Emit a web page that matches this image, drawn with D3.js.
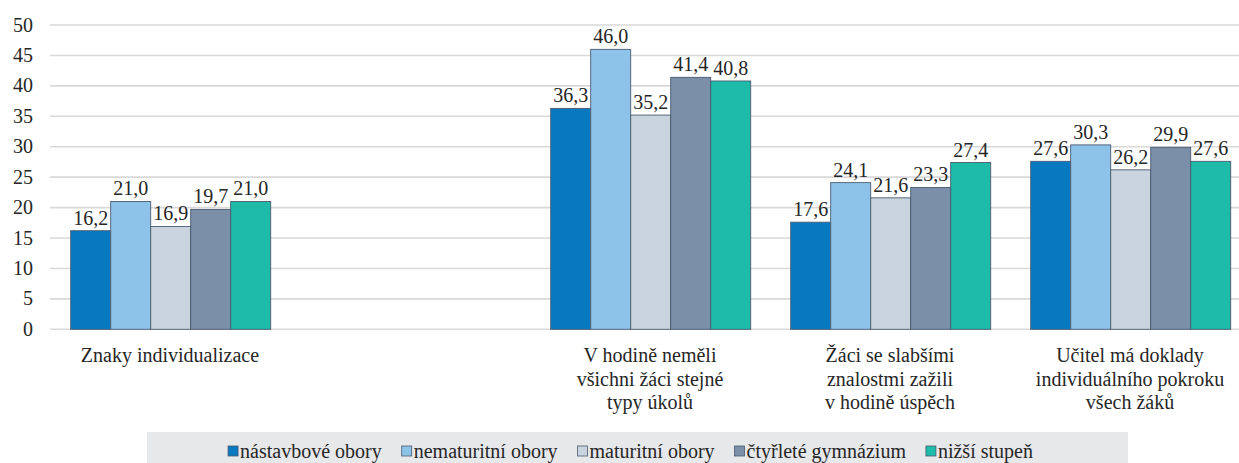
<!DOCTYPE html>
<html>
<head>
<meta charset="utf-8">
<script src="https://cdn.jsdelivr.net/npm/d3@7"></script>
</head>
<body style="margin:0">
<svg id="s" width="1239" height="463"></svg>
<script>
// ---- data ----
const categories = ["c0", "c1", "c2", "c3", "c4"];
const categoryLabels = [
  ["Znaky individualizace"],
  [],
  ["V hodině neměli", "všichni žáci stejné", "typy úkolů"],
  ["Žáci se slabšími", "znalostmi zažili", "v hodině úspěch"],
  ["Učitel má doklady", "individuálního pokroku", "všech žáků"]
];
const seriesNames = ["nástavbové obory", "nematuritní obory", "maturitní obory", "čtyřleté gymnázium", "nižší stupeň"];
const nastavbove   = [16.2, null, 36.3, 17.6, 27.6];
const nematuritni  = [21.0, null, 46.0, 24.1, 30.3];
const maturitni    = [16.9, null, 35.2, 21.6, 26.2];
const ctyrlete     = [19.7, null, 41.4, 23.3, 29.9];
const nizsi        = [21.0, null, 40.8, 27.4, 27.6];
const yTicks = [0, 5, 10, 15, 20, 25, 30, 35, 40, 45, 50];

const seriesValues = [nastavbove, nematuritni, maturitni, ctyrlete, nizsi];
const colors = ["#0779c1", "#8dc3e9", "#c9d4de", "#7b8fa8", "#1dbba8"];

// ---- layout ----
const FONT = "Liberation Serif";
const svg = d3.select("#s");
const W = 1239;
const x0 = d3.scaleBand().domain(categories).range([50, 1250]).padding(0);
const x1 = d3.scaleBand().domain(seriesNames).range([20.7, 220.7]).padding(0);
const y = d3.scaleLinear().domain([0, 50]).range([329.3, 25]);
const fmt = v => d3.format(".1f")(v).replace(".", ",");
const textColor = "#262626";

// gridlines
svg.append("g").selectAll("line").data(yTicks).join("line")
  .attr("x1", 50).attr("x2", W)
  .attr("y1", d => y(d)).attr("y2", d => y(d))
  .attr("stroke", "#d9d9d9").attr("stroke-width", 1.6);

// y tick labels
yTicks.forEach(d => {
  svg.append("text").attr("x", 33).attr("y", y(d) + 6.6)
    .attr("text-anchor", "end").attr("font-size", 20).attr("font-family", FONT).attr("fill", textColor)
    .text(d);
});

// bars
const rows = [];
categories.forEach((c, i) => {
  seriesNames.forEach((s, j) => {
    const v = seriesValues[j][i];
    if (v !== null) rows.push({ c, s, v, j });
  });
});

svg.append("g").selectAll("rect").data(rows).join("rect")
  .attr("x", d => x0(d.c) + x1(d.s))
  .attr("y", d => y(d.v))
  .attr("width", x1.bandwidth())
  .attr("height", d => y(0) - y(d.v))
  .attr("fill", d => colors[d.j])
  .attr("stroke", "#4a5a70").attr("stroke-width", 0.9);

// value labels
rows.forEach(d => {
  svg.append("text")
    .attr("x", x0(d.c) + x1(d.s) + x1.bandwidth() / 2)
    .attr("y", y(d.v) - 6)
    .attr("text-anchor", "middle").attr("font-size", 20).attr("font-family", FONT).attr("fill", textColor)
    .text(fmt(d.v));
});

// category labels (one text per line)
categories.forEach((c, i) => {
  categoryLabels[i].forEach((line, k) => {
    svg.append("text")
      .attr("x", x0(c) + x0.bandwidth() / 2)
      .attr("y", 362 + k * 23.5)
      .attr("text-anchor", "middle").attr("font-size", 20).attr("font-family", FONT).attr("fill", textColor)
      .text(line);
  });
});

// legend
svg.append("rect").attr("x", 147).attr("y", 432).attr("width", 981).attr("height", 31)
  .attr("fill", "#e7e8ea");
const items = svg.append("g");
let cx = 0;
const gaps = 20;
seriesNames.forEach((s, j) => {
  const g = items.append("g").attr("transform", `translate(${cx},0)`);
  g.append("rect").attr("x", 0).attr("y", 446).attr("width", 10).attr("height", 10)
    .attr("fill", colors[j]).attr("stroke", "#4a5a70").attr("stroke-width", 0.8);
  const t = g.append("text").attr("x", 12).attr("y", 457.5)
    .attr("font-size", 20).attr("font-family", FONT).attr("fill", textColor).text(s);
  cx += 12 + t.node().getComputedTextLength() + gaps;
});
const totalW = cx - gaps;
items.attr("transform", `translate(${630.5 - totalW / 2},0)`);
</script>
</body>
</html>
